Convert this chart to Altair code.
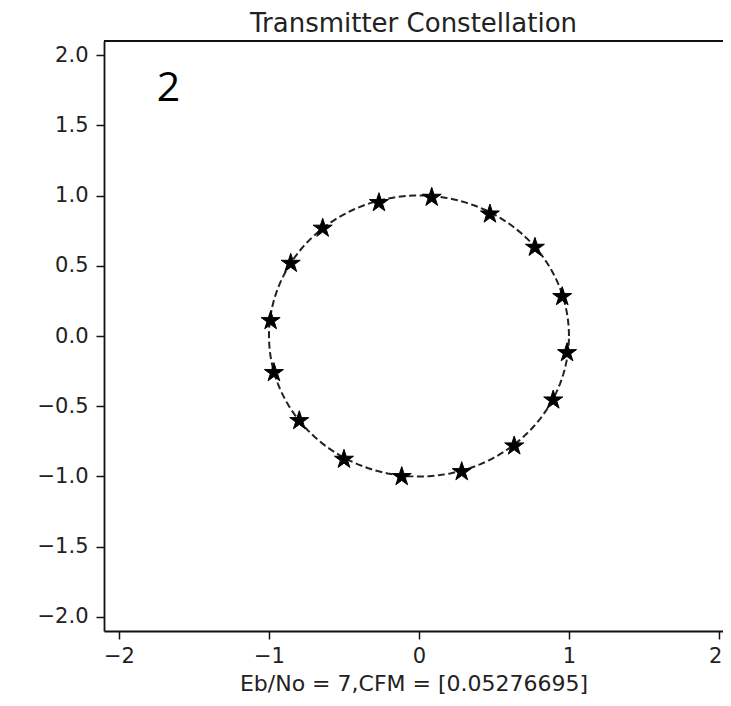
import altair as alt
import pandas as pd

# ---- data ----
star_x = [0.085, 0.473, 0.773, 0.955, 0.987, 0.895, 0.635, 0.285,
          -0.115, -0.500, -0.798, -0.967, -0.989, -0.855, -0.642, -0.267]
star_y = [0.987, 0.868, 0.631, 0.280, -0.119, -0.456, -0.783, -0.966,
          -1.001, -0.878, -0.603, -0.261, 0.109, 0.517, 0.767, 0.949]
circle_radius = [1.0]
x_ticks = [-2, -1, 0, 1, 2]
y_ticks = [-2.0, -1.5, -1.0, -0.5, 0.0, 0.5, 1.0, 1.5, 2.0]
annot_x = [-1.67]
annot_y = [1.671]
annot_text = ["2"]
title_text = "Transmitter Constellation"
x_title = "Eb/No = 7,CFM = [0.05276695]"

W, H = 619, 590
xdom = [-2.1, 2.027]
ydom = [-2.1, 2.1]

stars = pd.DataFrame({"x": star_x, "y": star_y})
annot = pd.DataFrame({"x": annot_x, "y": annot_y, "t": annot_text})

xs = alt.Scale(domain=xdom, nice=False, zero=False)
ys = alt.Scale(domain=ydom, nice=False, zero=False)
xax = alt.Axis(values=x_ticks, format="d", title=x_title, titlePadding=7,
               labelPadding=6, labelFlush=5, labelFlushOffset=3)
yax = alt.Axis(values=y_ticks, format=".1f", title="", labelPadding=8)

circle = (
    alt.Chart(alt.sequence(0, 362, 2, as_="t"))
    .transform_calculate(
        cx=f"{circle_radius[0]} * cos(datum.t * PI / 180)",
        cy=f"{circle_radius[0]} * sin(datum.t * PI / 180)",
    )
    .mark_line(color="#222", strokeWidth=2, strokeDash=[7, 3.5])
    .encode(
        x=alt.X("cx:Q", scale=xs, axis=xax),
        y=alt.Y("cy:Q", scale=ys, axis=yax),
        order="t:Q",
    )
)

star_path = ("M0,-1 L0.225,-0.309 L0.951,-0.309 L0.363,0.118 L0.588,0.809 "
             "L0,0.382 L-0.588,0.809 L-0.363,0.118 L-0.951,-0.309 L-0.225,-0.309 Z")

points = (
    alt.Chart(stars)
    .mark_point(shape=star_path, size=400, filled=True, color="black",
                stroke="black", strokeWidth=1, opacity=1)
    .encode(x=alt.X("x:Q", scale=xs), y=alt.Y("y:Q", scale=ys))
)

label = (
    alt.Chart(annot)
    .mark_text(font="Open Sans", fontSize=41, color="black",
               align="center", baseline="alphabetic")
    .encode(x=alt.X("x:Q", scale=xs), y=alt.Y("y:Q", scale=ys), text="t:N")
)

top_line = (
    alt.Chart(annot)
    .mark_rule(color="#111", strokeWidth=1.8)
    .encode(x=alt.value(0), x2=alt.value(W), y=alt.value(0))
)

chart = (
    alt.layer(circle, points, label, top_line)
    .properties(
        width=W, height=H,
        title=alt.TitleParams(title_text, font="DejaVu Sans", fontSize=26,
                              fontWeight="normal", color="#222",
                              anchor="middle", offset=3),
        autosize=alt.AutoSizeParams(type="none"),
        padding={"left": 96, "top": 33, "right": 0, "bottom": 66},
    )
    .configure_view(stroke=None)
    .configure_axis(
        labelFont="DejaVu Sans", labelFontSize=21, labelColor="#222",
        titleFont="DejaVu Sans", titleFontSize=22, titleColor="#222",
        titleFontWeight="normal",
        domainColor="#111", domainWidth=1.8,
        tickColor="#111", tickWidth=1.5, tickSize=8, grid=False,
    )
)

chart.save("out.html", embed_options={"renderer": "svg", "actions": False})
